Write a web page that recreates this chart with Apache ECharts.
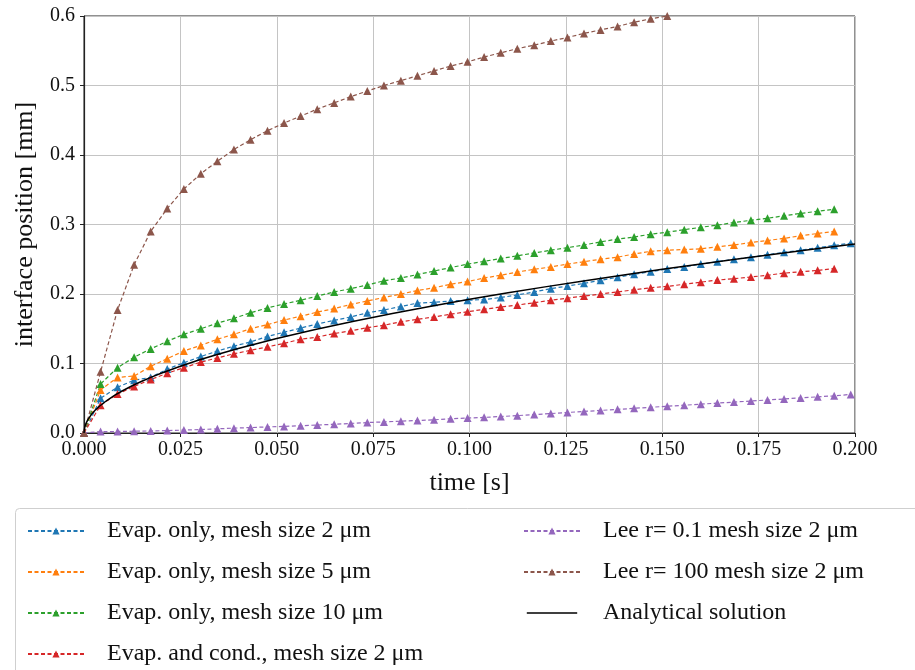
<!DOCTYPE html>
<html>
<head>
<meta charset="utf-8">
<script src="https://cdn.jsdelivr.net/npm/echarts@6/dist/echarts.min.js"></script>
<style>html,body{margin:0;padding:0;background:#fff}#c{width:915px;height:670px}</style>
</head>
<body>
<div id="c"></div>
<script>
// time grid of the simulation outputs [s]
const times = [0, 0.0043, 0.0087, 0.0130, 0.0173, 0.0216, 0.0259, 0.0303, 0.0346, 0.0389, 0.0432, 0.0476, 0.0519, 0.0562, 0.0605, 0.0649, 0.0692, 0.0735, 0.0778, 0.0822, 0.0865, 0.0908, 0.0951, 0.0995, 0.1038, 0.1081, 0.1124, 0.1168, 0.1211, 0.1254, 0.1297, 0.1340, 0.1384, 0.1427, 0.1470, 0.1513, 0.1557, 0.1600, 0.1643, 0.1686, 0.1730, 0.1773, 0.1816, 0.1859, 0.1903, 0.1946, 0.1989];

// interface position [mm]
const evap2 = [0, 0.050, 0.066, 0.076, 0.080, 0.092, 0.101, 0.110, 0.118, 0.125, 0.131, 0.139, 0.145, 0.151, 0.157, 0.162, 0.167, 0.173, 0.177, 0.182, 0.187, 0.188, 0.190, 0.191, 0.192, 0.195, 0.1986, 0.203, 0.2077, 0.2115, 0.2153, 0.2197, 0.224, 0.2283, 0.232, 0.236, 0.239, 0.243, 0.2465, 0.250, 0.253, 0.2566, 0.260, 0.263, 0.2667, 0.270, 0.273];
const evap5 = [0, 0.062, 0.080, 0.082, 0.096, 0.107, 0.118, 0.126, 0.135, 0.142, 0.150, 0.156, 0.1626, 0.168, 0.174, 0.179, 0.185, 0.190, 0.195, 0.200, 0.205, 0.209, 0.214, 0.218, 0.223, 0.227, 0.2317, 0.2355, 0.239, 0.243, 0.2465, 0.250, 0.253, 0.2576, 0.2614, 0.263, 0.264, 0.265, 0.268, 0.2705, 0.274, 0.277, 0.280, 0.284, 0.287, 0.290];
const evap10 = [0, 0.0705, 0.094, 0.109, 0.121, 0.132, 0.142, 0.150, 0.158, 0.165, 0.173, 0.180, 0.1856, 0.191, 0.197, 0.203, 0.2077, 0.213, 0.219, 0.223, 0.228, 0.233, 0.238, 0.243, 0.247, 0.251, 0.255, 0.259, 0.263, 0.2667, 0.2705, 0.275, 0.279, 0.282, 0.286, 0.289, 0.2925, 0.296, 0.299, 0.303, 0.306, 0.309, 0.3125, 0.316, 0.319, 0.322];
const evapCond2 = [0, 0.040, 0.056, 0.067, 0.077, 0.086, 0.094, 0.102, 0.108, 0.114, 0.119, 0.124, 0.129, 0.135, 0.138, 0.143, 0.147, 0.1515, 0.155, 0.160, 0.1636, 0.167, 0.171, 0.1745, 0.178, 0.1813, 0.184, 0.1875, 0.191, 0.194, 0.197, 0.200, 0.203, 0.206, 0.209, 0.211, 0.214, 0.217, 0.220, 0.222, 0.2245, 0.227, 0.230, 0.232, 0.234, 0.2365];
const lee01 = [0, 0.002, 0.0022, 0.0025, 0.003, 0.0035, 0.0042, 0.005, 0.006, 0.007, 0.0078, 0.0088, 0.0095, 0.0105, 0.0115, 0.0125, 0.0138, 0.015, 0.016, 0.017, 0.018, 0.019, 0.0205, 0.0215, 0.0225, 0.0237, 0.025, 0.0265, 0.028, 0.0295, 0.031, 0.0325, 0.034, 0.0355, 0.037, 0.0385, 0.040, 0.0415, 0.043, 0.0445, 0.046, 0.0475, 0.049, 0.0505, 0.052, 0.0535, 0.0555];
const lee100 = [0, 0.088, 0.177, 0.242, 0.290, 0.323, 0.351, 0.373, 0.391, 0.408, 0.422, 0.435, 0.446, 0.456, 0.466, 0.475, 0.484, 0.492, 0.500, 0.507, 0.514, 0.521, 0.528, 0.534, 0.541, 0.547, 0.553, 0.558, 0.564, 0.569, 0.575, 0.580, 0.585, 0.591, 0.596, 0.600];

// analytical solution
const anaTimes = [0, 0.0002, 0.0005, 0.001, 0.002, 0.003, 0.004, 0.006, 0.008, 0.01, 0.0125, 0.015, 0.0175, 0.02, 0.025, 0.03, 0.035, 0.04, 0.05, 0.06, 0.07, 0.08, 0.09, 0.10, 0.11, 0.12, 0.13, 0.14, 0.15, 0.16, 0.17, 0.18, 0.19, 0.20];
const anaVals = [0, 0.0086, 0.0136, 0.0192, 0.0272, 0.0333, 0.0385, 0.0471, 0.0544, 0.0608, 0.0680, 0.0745, 0.0804, 0.0860, 0.0961, 0.1053, 0.1137, 0.1216, 0.1360, 0.1489, 0.1609, 0.1720, 0.1824, 0.1923, 0.2017, 0.2106, 0.2192, 0.2275, 0.2355, 0.2432, 0.2507, 0.2580, 0.2650, 0.2719];

const seriesNames = [
  'Evap. only, mesh size 2 μm',
  'Evap. only, mesh size 5 μm',
  'Evap. only, mesh size 10 μm',
  'Evap. and cond., mesh size 2 μm',
  'Lee r= 0.1 mesh size 2 μm',
  'Lee r= 100 mesh size 2 μm',
  'Analytical solution'
];
const colors = ['#1f77b4', '#ff7f0e', '#2ca02c', '#d62728', '#9467bd', '#8c564b', '#000000'];
const seriesValues = [evap2, evap5, evap10, evapCond2, lee01, lee100];

const FONT = 'Liberation Serif';

function pairs(xs, ys) { return ys.map((v, i) => [xs[i], v]); }

const series = seriesValues.map((vals, k) => ({
  name: seriesNames[k],
  type: 'line',
  data: pairs(times, vals),
  symbol: 'triangle',
  symbolSize: 8,
  showSymbol: true,
  color: colors[k],
  lineStyle: { color: colors[k], width: 1.2, type: [4, 2.5] },
  itemStyle: { color: colors[k] },
  animation: false,
  z: 3
}));
series.push({
  name: seriesNames[6],
  type: 'line',
  data: pairs(anaTimes, anaVals),
  symbol: 'none',
  showSymbol: false,
  color: '#000',
  lineStyle: { color: '#000', width: 1.5, type: 'solid' },
  animation: false,
  z: 4
});

const legendText = { fontFamily: FONT, fontSize: 24, color: '#111', lineHeight: 24, padding: [0, 0, 0, 18] };
const solidIcon = 'path://M0,0 L0.01,0 L0.01,0.01 Z M0,4.3 L56,4.3 L56,5.7 L0,5.7 Z M0,10 L0.01,10 L0.01,9.99 Z';

const option = {
  backgroundColor: '#fff',
  animation: false,
  grid: { left: 84, right: 60, top: 16, bottom: 237, show: true, borderColor: '#222', borderWidth: 1, backgroundColor: '#fff' },
  xAxis: {
    type: 'value', min: 0, max: 0.2, interval: 0.025,
    name: 'time [s]', nameLocation: 'middle', nameGap: 37,
    nameTextStyle: { fontFamily: FONT, fontSize: 26, color: '#111' },
    axisLine: { show: true, onZero: false, lineStyle: { color: '#222', width: 1.2 } },
    axisTick: { show: true, inside: false, length: 4, lineStyle: { color: '#222' } },
    axisLabel: { fontFamily: FONT, fontSize: 20, color: '#111', margin: 7, formatter: v => v.toFixed(3) },
    splitLine: { show: true, lineStyle: { color: '#c4c4c4', width: 1 } }
  },
  yAxis: {
    type: 'value', min: 0, max: 0.6, interval: 0.1,
    name: 'interface position [mm]', nameLocation: 'middle', nameGap: 46, nameRotate: 90,
    nameTextStyle: { fontFamily: FONT, fontSize: 26, color: '#111' },
    axisLine: { show: true, onZero: false, lineStyle: { color: '#222', width: 1.2 } },
    axisTick: { show: true, inside: false, length: 4, lineStyle: { color: '#222' } },
    axisLabel: { fontFamily: FONT, fontSize: 20, color: '#111', margin: 9, formatter: v => v.toFixed(1) },
    splitLine: { show: true, lineStyle: { color: '#c4c4c4', width: 1 } }
  },
  graphic: [{
    type: 'rect', left: 15, top: 508, z: -1,
    shape: { width: 920, height: 200, r: 4 },
    style: { fill: '#fff', stroke: '#cfcfcf', lineWidth: 1 }
  }],
  legend: [{
    data: seriesNames.slice(0, 4),
    orient: 'vertical', left: 27, top: 519, padding: 0, height: 152,
    itemWidth: 56, itemHeight: 9, itemGap: 17,
    textStyle: legendText
  }, {
    data: [seriesNames[4], seriesNames[5], { name: seriesNames[6], icon: solidIcon }],
    orient: 'vertical', left: 523, top: 519, padding: 0, height: 152,
    itemWidth: 56, itemHeight: 9, itemGap: 17,
    textStyle: legendText
  }],
  series: series
};

const chart = echarts.init(document.getElementById('c'), null, { renderer: 'canvas' });
chart.setOption(option);
</script>
</body>
</html>
